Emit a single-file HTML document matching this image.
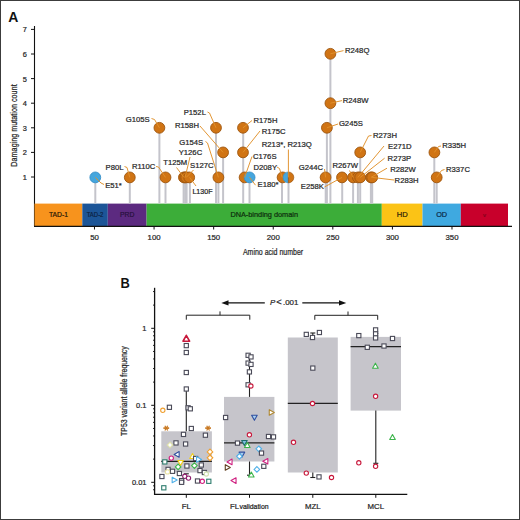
<!DOCTYPE html><html><head><meta charset="utf-8"><style>html,body{margin:0;padding:0;background:#fff;}svg{display:block;}text{font-family:"Liberation Sans",sans-serif;}.t{stroke:#222;stroke-width:0.22px;}</style></head><body>
<svg width="520" height="520" viewBox="0 0 520 520">
<rect x="0" y="0" width="520" height="520" fill="#fff"/>
<text x="8.2" y="21.9" font-size="14" font-weight="bold" fill="#111">A</text>
<text transform="translate(16.8,125.5) rotate(-90) scale(0.84,1)" text-anchor="middle" font-size="8.6" fill="#2a2a2a" class="t">Damaging mutation count</text>
<line x1="34.5" y1="26" x2="34.5" y2="226.5" stroke="#111" stroke-width="1.1"/>
<line x1="31" y1="177.00" x2="34.5" y2="177.00" stroke="#111" stroke-width="1"/>
<text x="26.8" y="179.90" text-anchor="end" font-size="7.4" fill="#2a2a2a" class="t">1</text>
<line x1="31" y1="152.40" x2="34.5" y2="152.40" stroke="#111" stroke-width="1"/>
<text x="26.8" y="155.30" text-anchor="end" font-size="7.4" fill="#2a2a2a" class="t">2</text>
<line x1="31" y1="127.80" x2="34.5" y2="127.80" stroke="#111" stroke-width="1"/>
<text x="26.8" y="130.70" text-anchor="end" font-size="7.4" fill="#2a2a2a" class="t">3</text>
<line x1="31" y1="103.20" x2="34.5" y2="103.20" stroke="#111" stroke-width="1"/>
<text x="26.8" y="106.10" text-anchor="end" font-size="7.4" fill="#2a2a2a" class="t">4</text>
<line x1="31" y1="78.60" x2="34.5" y2="78.60" stroke="#111" stroke-width="1"/>
<text x="26.8" y="81.50" text-anchor="end" font-size="7.4" fill="#2a2a2a" class="t">5</text>
<line x1="31" y1="54.00" x2="34.5" y2="54.00" stroke="#111" stroke-width="1"/>
<text x="26.8" y="56.90" text-anchor="end" font-size="7.4" fill="#2a2a2a" class="t">6</text>
<line x1="31" y1="29.40" x2="34.5" y2="29.40" stroke="#111" stroke-width="1"/>
<text x="26.8" y="32.30" text-anchor="end" font-size="7.4" fill="#2a2a2a" class="t">7</text>
<rect x="34.5" y="203.6" width="47.80" height="22.4" fill="#F7931D"/>
<text x="58.40" y="217.2" text-anchor="middle" font-size="7.7" fill="#241505" stroke="#241505" stroke-width="0.2" textLength="19.0" lengthAdjust="spacingAndGlyphs">TAD-1</text>
<rect x="82.3" y="203.6" width="25.50" height="22.4" fill="#1C5597"/>
<text x="95.05" y="217.2" text-anchor="middle" font-size="7.7" fill="#0c2240" stroke="#0c2240" stroke-width="0.2" textLength="16.8" lengthAdjust="spacingAndGlyphs">TAD-2</text>
<rect x="107.8" y="203.6" width="38.80" height="22.4" fill="#5C2A80"/>
<text x="127.20" y="217.2" text-anchor="middle" font-size="7.7" fill="#26103a" stroke="#26103a" stroke-width="0.2" textLength="14.4" lengthAdjust="spacingAndGlyphs">PRD</text>
<rect x="146.6" y="203.6" width="235.20" height="22.4" fill="#3CAD39"/>
<text x="264.20" y="217.2" text-anchor="middle" font-size="7.7" fill="#0c2c0c" stroke="#0c2c0c" stroke-width="0.2" textLength="67.6" lengthAdjust="spacingAndGlyphs">DNA-binding domain</text>
<rect x="381.8" y="203.6" width="40.70" height="22.4" fill="#FBC316"/>
<text x="402.15" y="217.2" text-anchor="middle" font-size="7.7" fill="#2a2008" stroke="#2a2008" stroke-width="0.2" textLength="11.0" lengthAdjust="spacingAndGlyphs">HD</text>
<rect x="422.5" y="203.6" width="38.30" height="22.4" fill="#3FA9E0"/>
<text x="441.65" y="217.2" text-anchor="middle" font-size="7.7" fill="#0a2846" stroke="#0a2846" stroke-width="0.2" textLength="11.0" lengthAdjust="spacingAndGlyphs">OD</text>
<rect x="460.8" y="203.6" width="47.20" height="22.4" fill="#C8002B"/>
<text x="484.40" y="217.2" text-anchor="middle" font-size="6" fill="#80001a" stroke="#80001a" stroke-width="0.2">v</text>
<line x1="34" y1="226.3" x2="512" y2="226.3" stroke="#111" stroke-width="1.2"/>
<line x1="94.48" y1="226" x2="94.48" y2="229.5" stroke="#111" stroke-width="1"/>
<text x="94.48" y="240.4" text-anchor="middle" font-size="7.8" fill="#2a2a2a" class="t">50</text>
<line x1="154.07" y1="226" x2="154.07" y2="229.5" stroke="#111" stroke-width="1"/>
<text x="154.07" y="240.4" text-anchor="middle" font-size="7.8" fill="#2a2a2a" class="t">100</text>
<line x1="213.66" y1="226" x2="213.66" y2="229.5" stroke="#111" stroke-width="1"/>
<text x="213.66" y="240.4" text-anchor="middle" font-size="7.8" fill="#2a2a2a" class="t">150</text>
<line x1="273.24" y1="226" x2="273.24" y2="229.5" stroke="#111" stroke-width="1"/>
<text x="273.24" y="240.4" text-anchor="middle" font-size="7.8" fill="#2a2a2a" class="t">200</text>
<line x1="332.82" y1="226" x2="332.82" y2="229.5" stroke="#111" stroke-width="1"/>
<text x="332.82" y="240.4" text-anchor="middle" font-size="7.8" fill="#2a2a2a" class="t">250</text>
<line x1="392.41" y1="226" x2="392.41" y2="229.5" stroke="#111" stroke-width="1"/>
<text x="392.41" y="240.4" text-anchor="middle" font-size="7.8" fill="#2a2a2a" class="t">300</text>
<line x1="451.99" y1="226" x2="451.99" y2="229.5" stroke="#111" stroke-width="1"/>
<text x="451.99" y="240.4" text-anchor="middle" font-size="7.8" fill="#2a2a2a" class="t">350</text>
<text transform="translate(273.0,254.6) scale(0.795,1)" text-anchor="middle" font-size="8.8" fill="#2a2a2a" class="t">Amino acid number</text>
<line x1="95.3" y1="203.6" x2="95.3" y2="177.4" stroke="#C4C4CB" stroke-width="2"/>
<line x1="129.8" y1="203.6" x2="129.8" y2="177.4" stroke="#C4C4CB" stroke-width="2"/>
<line x1="159.4" y1="203.6" x2="159.4" y2="127.8" stroke="#C4C4CB" stroke-width="2"/>
<line x1="165.5" y1="203.6" x2="165.5" y2="177.4" stroke="#C4C4CB" stroke-width="2"/>
<line x1="183.6" y1="203.6" x2="183.6" y2="177.4" stroke="#C4C4CB" stroke-width="2"/>
<line x1="185.2" y1="203.6" x2="185.2" y2="177.4" stroke="#C4C4CB" stroke-width="2"/>
<line x1="186.6" y1="203.6" x2="186.6" y2="177.4" stroke="#C4C4CB" stroke-width="2"/>
<line x1="189.9" y1="203.6" x2="189.9" y2="177.4" stroke="#C4C4CB" stroke-width="2"/>
<line x1="216.0" y1="203.6" x2="216.0" y2="127.8" stroke="#C4C4CB" stroke-width="2"/>
<line x1="218.4" y1="203.6" x2="218.4" y2="177.4" stroke="#C4C4CB" stroke-width="2"/>
<line x1="223.1" y1="203.6" x2="223.1" y2="152.4" stroke="#C4C4CB" stroke-width="2"/>
<line x1="243.2" y1="203.6" x2="243.2" y2="127.8" stroke="#C4C4CB" stroke-width="2"/>
<line x1="249.5" y1="203.6" x2="249.5" y2="177.4" stroke="#C4C4CB" stroke-width="2"/>
<line x1="282.0" y1="203.6" x2="282.0" y2="177.4" stroke="#C4C4CB" stroke-width="2"/>
<line x1="288.5" y1="203.6" x2="288.5" y2="177.4" stroke="#C4C4CB" stroke-width="2"/>
<line x1="325.7" y1="203.6" x2="325.7" y2="177.4" stroke="#C4C4CB" stroke-width="2"/>
<line x1="326.9" y1="203.6" x2="326.9" y2="127.8" stroke="#C4C4CB" stroke-width="2"/>
<line x1="330.4" y1="203.6" x2="330.4" y2="53.8" stroke="#C4C4CB" stroke-width="2"/>
<line x1="342.2" y1="203.6" x2="342.2" y2="177.4" stroke="#C4C4CB" stroke-width="2"/>
<line x1="353.1" y1="203.6" x2="353.1" y2="177.4" stroke="#C4C4CB" stroke-width="2"/>
<line x1="357.9" y1="203.6" x2="357.9" y2="177.4" stroke="#C4C4CB" stroke-width="2"/>
<line x1="360.2" y1="203.6" x2="360.2" y2="152.4" stroke="#C4C4CB" stroke-width="2"/>
<line x1="370.9" y1="203.6" x2="370.9" y2="177.4" stroke="#C4C4CB" stroke-width="2"/>
<line x1="372.2" y1="203.6" x2="372.2" y2="177.4" stroke="#C4C4CB" stroke-width="2"/>
<line x1="434.3" y1="203.6" x2="434.3" y2="152.4" stroke="#C4C4CB" stroke-width="2"/>
<line x1="436.7" y1="203.6" x2="436.7" y2="177.4" stroke="#C4C4CB" stroke-width="2"/>
<circle cx="95.3" cy="177.4" r="5.4" fill="#45A6DD" stroke="#3890C8" stroke-width="0.9"/>
<circle cx="129.8" cy="177.4" r="5.4" fill="#D07414" stroke="#9E560E" stroke-width="0.9"/>
<circle cx="159.4" cy="127.8" r="5.4" fill="#D07414" stroke="#9E560E" stroke-width="0.9"/>
<circle cx="165.5" cy="177.4" r="5.4" fill="#D07414" stroke="#9E560E" stroke-width="0.9"/>
<circle cx="183.9" cy="177.4" r="5.4" fill="#D07414" stroke="#9E560E" stroke-width="0.9"/>
<circle cx="185.1" cy="177.4" r="5.4" fill="#D07414" stroke="#9E560E" stroke-width="0.9"/>
<circle cx="186.2" cy="177.4" r="5.4" fill="#D07414" stroke="#9E560E" stroke-width="0.9"/>
<circle cx="189.2" cy="177.4" r="5.4" fill="#D07414" stroke="#9E560E" stroke-width="0.9"/>
<circle cx="216.0" cy="127.8" r="5.4" fill="#D07414" stroke="#9E560E" stroke-width="0.9"/>
<circle cx="218.4" cy="177.4" r="5.4" fill="#D07414" stroke="#9E560E" stroke-width="0.9"/>
<circle cx="223.1" cy="152.4" r="5.4" fill="#D07414" stroke="#9E560E" stroke-width="0.9"/>
<circle cx="243.0" cy="127.8" r="5.4" fill="#D07414" stroke="#9E560E" stroke-width="0.9"/>
<circle cx="243.0" cy="152.4" r="5.4" fill="#D07414" stroke="#9E560E" stroke-width="0.9"/>
<circle cx="244.6" cy="177.4" r="5.4" fill="#D07414" stroke="#9E560E" stroke-width="0.9"/>
<circle cx="249.6" cy="177.4" r="5.4" fill="#45A6DD" stroke="#3890C8" stroke-width="0.9"/>
<circle cx="282.6" cy="177.4" r="5.4" fill="#D07414" stroke="#9E560E" stroke-width="0.9"/>
<circle cx="325.6" cy="177.4" r="5.4" fill="#D07414" stroke="#9E560E" stroke-width="0.9"/>
<circle cx="326.9" cy="127.8" r="5.4" fill="#D07414" stroke="#9E560E" stroke-width="0.9"/>
<circle cx="330.4" cy="103.2" r="5.4" fill="#D07414" stroke="#9E560E" stroke-width="0.9"/>
<circle cx="330.4" cy="53.8" r="5.4" fill="#D07414" stroke="#9E560E" stroke-width="0.9"/>
<circle cx="342.0" cy="177.4" r="5.4" fill="#D07414" stroke="#9E560E" stroke-width="0.9"/>
<circle cx="353.1" cy="177.4" r="5.4" fill="#D07414" stroke="#9E560E" stroke-width="0.9"/>
<circle cx="357.9" cy="177.4" r="5.4" fill="#D07414" stroke="#9E560E" stroke-width="0.9"/>
<circle cx="360.2" cy="177.4" r="5.4" fill="#D07414" stroke="#9E560E" stroke-width="0.9"/>
<circle cx="360.2" cy="152.4" r="5.4" fill="#D07414" stroke="#9E560E" stroke-width="0.9"/>
<circle cx="371.0" cy="177.4" r="5.4" fill="#D07414" stroke="#9E560E" stroke-width="0.9"/>
<circle cx="372.2" cy="177.4" r="5.4" fill="#D07414" stroke="#9E560E" stroke-width="0.9"/>
<circle cx="434.4" cy="152.4" r="5.4" fill="#D07414" stroke="#9E560E" stroke-width="0.9"/>
<circle cx="436.7" cy="177.4" r="5.4" fill="#D07414" stroke="#9E560E" stroke-width="0.9"/>
<path d="M288.4,172.0 A5.4,5.4 0 0 0 288.4,182.8 Z" fill="#45A6DD" stroke="#3890C8" stroke-width="0.7"/>
<path d="M288.4,172.0 A5.4,5.4 0 0 1 288.4,182.8 Z" fill="#D07414" stroke="#9E560E" stroke-width="0.7"/>
<path d="M104,184.5 L101,183 L95.3,177.4" fill="none" stroke="#E0902A" stroke-width="0.95"/>
<path d="M124.5,166.5 L127,167.5 L129.8,177.4" fill="none" stroke="#E0902A" stroke-width="0.95"/>
<path d="M151.5,118.5 L154.5,119.5 L159.4,127.8" fill="none" stroke="#E0902A" stroke-width="0.95"/>
<path d="M156,166.5 L158.5,167 L165.5,177.4" fill="none" stroke="#E0902A" stroke-width="0.95"/>
<path d="M176.5,167.5 L183.9,177.4" fill="none" stroke="#E0902A" stroke-width="0.95"/>
<path d="M190,157 L185.1,177.4" fill="none" stroke="#E0902A" stroke-width="0.95"/>
<path d="M193.5,170 L186.2,177.4" fill="none" stroke="#E0902A" stroke-width="0.95"/>
<path d="M196,186 L189.6,177.4" fill="none" stroke="#E0902A" stroke-width="0.95"/>
<path d="M207.5,112 L209.5,113 L216.0,127.8" fill="none" stroke="#E0902A" stroke-width="0.95"/>
<path d="M200,126 L223.1,152.4" fill="none" stroke="#E0902A" stroke-width="0.95"/>
<path d="M205.5,141.5 L207.5,143 L218.4,177.4" fill="none" stroke="#E0902A" stroke-width="0.95"/>
<path d="M252,120.5 L243.0,127.8" fill="none" stroke="#E0902A" stroke-width="0.95"/>
<path d="M260,131 L243.0,152.4" fill="none" stroke="#E0902A" stroke-width="0.95"/>
<path d="M252,156.5 L244.6,177.4" fill="none" stroke="#E0902A" stroke-width="0.95"/>
<path d="M277,167 L279.5,168.5 L282.2,177.4" fill="none" stroke="#E0902A" stroke-width="0.95"/>
<path d="M288.4,149.5 L288.4,177.4" fill="none" stroke="#E0902A" stroke-width="0.95"/>
<path d="M255.5,185.2 L249.6,177.4" fill="none" stroke="#E0902A" stroke-width="0.95"/>
<path d="M324.5,169 L325.6,177.4" fill="none" stroke="#E0902A" stroke-width="0.95"/>
<path d="M324.5,187 L342.0,177.4" fill="none" stroke="#E0902A" stroke-width="0.95"/>
<path d="M343.5,50.6 L330.4,53.8" fill="none" stroke="#E0902A" stroke-width="0.95"/>
<path d="M342,100.6 L330.4,103.2" fill="none" stroke="#E0902A" stroke-width="0.95"/>
<path d="M338,124 L326.9,127.8" fill="none" stroke="#E0902A" stroke-width="0.95"/>
<path d="M371.5,135.5 L368.5,136 L360.2,152.4" fill="none" stroke="#E0902A" stroke-width="0.95"/>
<path d="M384,146 L357.9,177.4" fill="none" stroke="#E0902A" stroke-width="0.95"/>
<path d="M384.6,158.2 L360.2,177.4" fill="none" stroke="#E0902A" stroke-width="0.95"/>
<path d="M387,168.2 L371.0,177.4" fill="none" stroke="#E0902A" stroke-width="0.95"/>
<path d="M394,180 L372.2,177.4" fill="none" stroke="#E0902A" stroke-width="0.95"/>
<path d="M349.5,170.5 L353.1,177.4" fill="none" stroke="#E0902A" stroke-width="0.95"/>
<path d="M441,146 L438.5,146.5 L434.4,152.4" fill="none" stroke="#E0902A" stroke-width="0.95"/>
<path d="M444.5,169.5 L441.5,170.5 L436.7,177.4" fill="none" stroke="#E0902A" stroke-width="0.95"/>
<text x="105.2" y="187.90" font-size="7.7" fill="#2a2a2a" class="t">E51*</text>
<text x="105.6" y="170.20" font-size="7.7" fill="#2a2a2a" class="t">P80L</text>
<text x="125.8" y="121.80" font-size="7.7" fill="#2a2a2a" class="t">G105S</text>
<text x="131.9" y="168.60" font-size="7.7" fill="#2a2a2a" class="t">R110C</text>
<text x="163.2" y="165.40" font-size="7.7" fill="#2a2a2a" class="t">T125M</text>
<text x="178.7" y="154.80" font-size="7.7" fill="#2a2a2a" class="t">Y126C</text>
<text x="190.0" y="167.90" font-size="7.7" fill="#2a2a2a" class="t">S127C</text>
<text x="192.4" y="194.10" font-size="7.1" fill="#2a2a2a" class="t">L130F</text>
<text x="183.7" y="115.00" font-size="7.7" fill="#2a2a2a" class="t">P152L</text>
<text x="175.0" y="128.40" font-size="7.7" fill="#2a2a2a" class="t">R158H</text>
<text x="179.2" y="144.70" font-size="7.7" fill="#2a2a2a" class="t">G154S</text>
<text x="253.5" y="123.00" font-size="7.7" fill="#2a2a2a" class="t">R175H</text>
<text x="261.7" y="134.20" font-size="7.7" fill="#2a2a2a" class="t">R175C</text>
<text x="261.8" y="147.40" font-size="7.7" fill="#2a2a2a" class="t">R213*, R213Q</text>
<text x="253.0" y="158.70" font-size="7.7" fill="#2a2a2a" class="t">C176S</text>
<text x="253.5" y="170.40" font-size="7.7" fill="#2a2a2a" class="t">D208Y</text>
<text x="257.5" y="187.40" font-size="7.7" fill="#2a2a2a" class="t">E180*</text>
<text x="298.7" y="170.30" font-size="7.7" fill="#2a2a2a" class="t">G244C</text>
<text x="300.8" y="189.20" font-size="7.7" fill="#2a2a2a" class="t">E258K</text>
<text x="345.0" y="52.90" font-size="7.7" fill="#2a2a2a" class="t">R248Q</text>
<text x="342.8" y="103.00" font-size="7.7" fill="#2a2a2a" class="t">R248W</text>
<text x="338.9" y="125.70" font-size="7.7" fill="#2a2a2a" class="t">G245S</text>
<text x="373.0" y="138.10" font-size="7.7" fill="#2a2a2a" class="t">R273H</text>
<text x="388.0" y="149.30" font-size="7.7" fill="#2a2a2a" class="t">E271D</text>
<text x="387.6" y="161.10" font-size="7.7" fill="#2a2a2a" class="t">R273P</text>
<text x="390.2" y="171.60" font-size="7.7" fill="#2a2a2a" class="t">R282W</text>
<text x="394.6" y="183.20" font-size="7.7" fill="#2a2a2a" class="t">R283H</text>
<text x="332.4" y="167.50" font-size="7.7" fill="#2a2a2a" class="t">R267W</text>
<text x="442.2" y="148.30" font-size="7.7" fill="#2a2a2a" class="t">R335H</text>
<text x="446.0" y="171.70" font-size="7.7" fill="#2a2a2a" class="t">R337C</text>
<text transform="translate(120.4,288) scale(0.92,1)" font-size="14" font-weight="bold" fill="#111">B</text>
<rect x="161.3" y="431.3" width="50.60" height="41.20" fill="#C6C5CB"/>
<rect x="224.0" y="396.9" width="50.40" height="64.60" fill="#C6C5CB"/>
<rect x="287.8" y="337.5" width="50.00" height="135.00" fill="#C6C5CB"/>
<rect x="350.6" y="336.9" width="50.40" height="73.70" fill="#C6C5CB"/>
<line x1="186.3" y1="389" x2="186.3" y2="431.3" stroke="#222" stroke-width="1.1"/>
<line x1="249.5" y1="353.8" x2="249.5" y2="396.9" stroke="#222" stroke-width="1.1"/>
<line x1="249.5" y1="461.5" x2="249.5" y2="475" stroke="#222" stroke-width="1.1"/>
<line x1="312.8" y1="333.0" x2="312.8" y2="337.5" stroke="#222" stroke-width="1.1"/>
<line x1="312.8" y1="472.5" x2="312.8" y2="477.5" stroke="#222" stroke-width="1.1"/>
<line x1="375.8" y1="333.6" x2="375.8" y2="336.9" stroke="#222" stroke-width="1.1"/>
<line x1="375.8" y1="410.6" x2="375.8" y2="463.3" stroke="#222" stroke-width="1.1"/>
<line x1="310.3" y1="477.5" x2="315.3" y2="477.5" stroke="#222" stroke-width="1.1"/>
<line x1="373.3" y1="463.3" x2="378.3" y2="463.3" stroke="#222" stroke-width="1.1"/>
<line x1="310.3" y1="333.0" x2="315.3" y2="333.0" stroke="#222" stroke-width="1.1"/>
<line x1="373.3" y1="333.6" x2="378.3" y2="333.6" stroke="#222" stroke-width="1.1"/>
<line x1="247.0" y1="475.2" x2="252.0" y2="475.2" stroke="#222" stroke-width="1.1"/>
<line x1="183.8" y1="473.8" x2="188.8" y2="473.8" stroke="#222" stroke-width="1.1"/>
<line x1="161.3" y1="461.3" x2="211.9" y2="461.3" stroke="#222" stroke-width="1.3"/>
<line x1="224.0" y1="442.9" x2="274.4" y2="442.9" stroke="#222" stroke-width="1.3"/>
<line x1="287.8" y1="403.4" x2="337.8" y2="403.4" stroke="#222" stroke-width="1.3"/>
<line x1="350.6" y1="346.6" x2="401.0" y2="346.6" stroke="#222" stroke-width="1.3"/>
<line x1="154.6" y1="287.8" x2="154.6" y2="494.8" stroke="#111" stroke-width="1.3"/>
<line x1="154" y1="494.3" x2="407.3" y2="494.3" stroke="#111" stroke-width="1.3"/>
<line x1="151.2" y1="328.30" x2="154.6" y2="328.30" stroke="#111" stroke-width="1"/>
<text x="146.5" y="330.80" text-anchor="end" font-size="7.5" fill="#2a2a2a" class="t">1</text>
<line x1="151.2" y1="405.30" x2="154.6" y2="405.30" stroke="#111" stroke-width="1"/>
<text x="146.5" y="407.80" text-anchor="end" font-size="7.5" fill="#2a2a2a" class="t">0.1</text>
<line x1="151.2" y1="482.30" x2="154.6" y2="482.30" stroke="#111" stroke-width="1"/>
<text x="146.5" y="484.80" text-anchor="end" font-size="7.5" fill="#2a2a2a" class="t">0.01</text>
<line x1="153" y1="489.76" x2="154.6" y2="489.76" stroke="#111" stroke-width="0.9"/>
<line x1="153" y1="485.82" x2="154.6" y2="485.82" stroke="#111" stroke-width="0.9"/>
<line x1="153" y1="459.12" x2="154.6" y2="459.12" stroke="#111" stroke-width="0.9"/>
<line x1="153" y1="445.56" x2="154.6" y2="445.56" stroke="#111" stroke-width="0.9"/>
<line x1="153" y1="435.94" x2="154.6" y2="435.94" stroke="#111" stroke-width="0.9"/>
<line x1="153" y1="428.48" x2="154.6" y2="428.48" stroke="#111" stroke-width="0.9"/>
<line x1="153" y1="422.38" x2="154.6" y2="422.38" stroke="#111" stroke-width="0.9"/>
<line x1="153" y1="417.23" x2="154.6" y2="417.23" stroke="#111" stroke-width="0.9"/>
<line x1="153" y1="412.76" x2="154.6" y2="412.76" stroke="#111" stroke-width="0.9"/>
<line x1="153" y1="408.82" x2="154.6" y2="408.82" stroke="#111" stroke-width="0.9"/>
<line x1="153" y1="382.12" x2="154.6" y2="382.12" stroke="#111" stroke-width="0.9"/>
<line x1="153" y1="368.56" x2="154.6" y2="368.56" stroke="#111" stroke-width="0.9"/>
<line x1="153" y1="358.94" x2="154.6" y2="358.94" stroke="#111" stroke-width="0.9"/>
<line x1="153" y1="351.48" x2="154.6" y2="351.48" stroke="#111" stroke-width="0.9"/>
<line x1="153" y1="345.38" x2="154.6" y2="345.38" stroke="#111" stroke-width="0.9"/>
<line x1="153" y1="340.23" x2="154.6" y2="340.23" stroke="#111" stroke-width="0.9"/>
<line x1="153" y1="335.76" x2="154.6" y2="335.76" stroke="#111" stroke-width="0.9"/>
<line x1="153" y1="331.82" x2="154.6" y2="331.82" stroke="#111" stroke-width="0.9"/>
<line x1="153" y1="305.12" x2="154.6" y2="305.12" stroke="#111" stroke-width="0.9"/>
<line x1="153" y1="291.56" x2="154.6" y2="291.56" stroke="#111" stroke-width="0.9"/>
<text transform="translate(127.4,391.1) rotate(-90) scale(0.845,1)" text-anchor="middle" font-size="8.2" fill="#2a2a2a" class="t">TP53 variant allele frequency</text>
<line x1="186.3" y1="494.3" x2="186.3" y2="497.8" stroke="#111" stroke-width="1"/>
<line x1="249.5" y1="494.3" x2="249.5" y2="497.8" stroke="#111" stroke-width="1"/>
<line x1="312.8" y1="494.3" x2="312.8" y2="497.8" stroke="#111" stroke-width="1"/>
<line x1="375.8" y1="494.3" x2="375.8" y2="497.8" stroke="#111" stroke-width="1"/>
<text x="186.3" y="508.8" text-anchor="middle" font-size="7.8" fill="#2a2a2a" class="t">FL</text>
<text x="249.3" y="508.8" text-anchor="middle" font-size="7.8" fill="#2a2a2a" class="t">FL<tspan dx="0.3" font-size="6.9">validation</tspan></text>
<text x="312.8" y="508.8" text-anchor="middle" font-size="7.8" fill="#2a2a2a" class="t">MZL</text>
<text x="375.8" y="508.8" text-anchor="middle" font-size="7.8" fill="#2a2a2a" class="t">MCL</text>
<path d="M186.3,319.7 L186.3,315.2 L249.8,315.2 L249.8,319.7" fill="none" stroke="#222" stroke-width="1"/>
<line x1="220.0" y1="315.2" x2="220.0" y2="311.4" stroke="#222" stroke-width="1"/>
<path d="M314.8,319.8 L314.8,315.3 L377.7,315.3 L377.7,319.8" fill="none" stroke="#222" stroke-width="1"/>
<line x1="348.0" y1="315.3" x2="348.0" y2="311.5" stroke="#222" stroke-width="1"/>
<line x1="226" y1="302.9" x2="264.8" y2="302.9" stroke="#111" stroke-width="1.3"/>
<path d="M221.3,302.9 L228.5,300.2 L228.5,305.6 Z" fill="#111"/>
<line x1="302.3" y1="302.9" x2="341" y2="302.9" stroke="#111" stroke-width="1.3"/>
<path d="M346.3,302.9 L339,300.2 L339,305.6 Z" fill="#111"/>
<text x="269.9" y="305.2" font-size="7.9" font-style="italic" fill="#2a2a2a" class="t">P</text><text x="276.3" y="305.3" font-size="9.4" fill="#2a2a2a" class="t">&lt;</text><text x="283.0" y="305.0" font-size="7.9" fill="#2a2a2a" class="t">.001</text>
<path d="M186.30,335.30 L189.60,341.24 L183.00,341.24 Z" fill="#fff" stroke="#C8193C" stroke-width="1.6" stroke-linejoin="round"/>
<rect x="184.20" y="343.50" width="4.2" height="4.2" fill="#fff" stroke="#4a4a58" stroke-width="1.1"/>
<rect x="184.20" y="350.40" width="4.2" height="4.2" fill="#fff" stroke="#4a4a58" stroke-width="1.1"/>
<rect x="184.20" y="370.40" width="4.2" height="4.2" fill="#fff" stroke="#4a4a58" stroke-width="1.1"/>
<rect x="184.20" y="386.90" width="4.2" height="4.2" fill="#fff" stroke="#4a4a58" stroke-width="1.1"/>
<circle cx="162.8" cy="410.3" r="2.15" fill="#fff" stroke="#F0A030" stroke-width="1.1"/>
<rect x="167.30" y="405.20" width="4.2" height="4.2" fill="#fff" stroke="#4a4a58" stroke-width="1.1"/>
<rect x="186.00" y="405.70" width="4.2" height="4.2" fill="#fff" stroke="#4a4a58" stroke-width="1.1"/>
<rect x="188.20" y="406.70" width="4.2" height="4.2" fill="#fff" stroke="#4a4a58" stroke-width="1.1"/>
<line x1="163.50" y1="428.10" x2="169.10" y2="428.10" stroke="#C87820" stroke-width="1.2"/><line x1="164.90" y1="425.68" x2="167.70" y2="430.52" stroke="#C87820" stroke-width="1.2"/><line x1="167.70" y1="425.68" x2="164.90" y2="430.52" stroke="#C87820" stroke-width="1.2"/><line x1="163.5" y1="428.1" x2="169.10000000000002" y2="428.1" stroke="#C87820" stroke-width="1.2"/>
<line x1="205.30" y1="428.10" x2="210.90" y2="428.10" stroke="#C87820" stroke-width="1.2"/><line x1="206.70" y1="425.68" x2="209.50" y2="430.52" stroke="#C87820" stroke-width="1.2"/><line x1="209.50" y1="425.68" x2="206.70" y2="430.52" stroke="#C87820" stroke-width="1.2"/><line x1="205.29999999999998" y1="428.1" x2="210.9" y2="428.1" stroke="#C87820" stroke-width="1.2"/>
<rect x="189.20" y="426.40" width="4.2" height="4.2" fill="#fff" stroke="#4a4a58" stroke-width="1.1"/>
<rect x="181.40" y="432.30" width="4.2" height="4.2" fill="#fff" stroke="#4a4a58" stroke-width="1.1"/>
<rect x="203.30" y="433.10" width="4.2" height="4.2" fill="#fff" stroke="#4a4a58" stroke-width="1.1"/>
<rect x="173.90" y="440.80" width="4.2" height="4.2" fill="#fff" stroke="#4a4a58" stroke-width="1.1"/>
<rect x="183.50" y="441.90" width="4.2" height="4.2" fill="#fff" stroke="#4a4a58" stroke-width="1.1"/>
<path d="M170,442.2 L172.8,445 L170,447.8 L167.2,445 Z" fill="#fff" stroke="#DCDFA8" stroke-width="1.1"/>
<path d="M210,449.09999999999997 L212.8,451.9 L210,454.7 L207.2,451.9 Z" fill="#fff" stroke="#F0A030" stroke-width="1.1"/>
<path d="M210,455.0 L212.8,457.8 L210,460.6 L207.2,457.8 Z" fill="#fff" stroke="#F0A030" stroke-width="1.1"/>
<path d="M174.10,454.40 L179.14,451.60 L179.14,457.20 Z" fill="#fff" stroke="#3050A0" stroke-width="1.1" stroke-linejoin="round"/>
<circle cx="171.3" cy="458.1" r="2.15" fill="#fff" stroke="#D02080" stroke-width="1.1"/>
<path d="M192.50,453.50 L195.30,458.54 L189.70,458.54 Z" fill="#fff" stroke="#F2D01A" stroke-width="1.1" stroke-linejoin="round"/>
<rect x="193.50" y="456.40" width="4.2" height="4.2" fill="#fff" stroke="#4a4a58" stroke-width="1.1"/>
<path d="M201.60,459.40 L196.56,456.60 L196.56,462.20 Z" fill="#fff" stroke="#50B0E8" stroke-width="1.1" stroke-linejoin="round"/>
<rect x="162.70" y="459.80" width="4.2" height="4.2" fill="#fff" stroke="#2E7D6E" stroke-width="1.1"/>
<path d="M180.60,465.60 L183.40,460.56 L177.80,460.56 Z" fill="#fff" stroke="#F2D01A" stroke-width="1.1" stroke-linejoin="round"/>
<path d="M178.1,464.09999999999997 L180.9,466.9 L178.1,469.7 L175.29999999999998,466.9 Z" fill="#fff" stroke="#3CB44B" stroke-width="1.1"/>
<rect x="184.80" y="463.90" width="4.2" height="4.2" fill="#fff" stroke="#4a4a58" stroke-width="1.1"/>
<path d="M194.4,462.8 L197.20000000000002,465.6 L194.4,468.40000000000003 L191.6,465.6 Z" fill="#fff" stroke="#3CB44B" stroke-width="1.1"/>
<rect x="199.20" y="462.90" width="4.2" height="4.2" fill="#fff" stroke="#4a4a58" stroke-width="1.1"/>
<rect x="166.00" y="467.30" width="4.2" height="4.2" fill="#fff" stroke="#4a4a58" stroke-width="1.1"/>
<rect x="170.40" y="469.20" width="4.2" height="4.2" fill="#fff" stroke="#4a4a58" stroke-width="1.1"/>
<circle cx="167.5" cy="471.9" r="2.15" fill="#fff" stroke="#E8E0A0" stroke-width="1.1"/>
<rect x="177.30" y="471.40" width="4.2" height="4.2" fill="#fff" stroke="#4a4a58" stroke-width="1.1"/>
<rect x="197.90" y="468.50" width="4.2" height="4.2" fill="#fff" stroke="#4a4a58" stroke-width="1.1"/>
<rect x="202.30" y="470.40" width="4.2" height="4.2" fill="#fff" stroke="#4a4a58" stroke-width="1.1"/>
<circle cx="206.3" cy="474" r="2.15" fill="#fff" stroke="#D0E0B0" stroke-width="1.1"/>
<rect x="159.80" y="474.40" width="4.2" height="4.2" fill="#fff" stroke="#4a4a58" stroke-width="1.1"/>
<circle cx="184.8" cy="476.3" r="2.15" fill="#fff" stroke="#8E1E6E" stroke-width="1.1"/>
<circle cx="188.5" cy="478.1" r="2.15" fill="#fff" stroke="#8E1E6E" stroke-width="1.1"/>
<path d="M177.20,480.00 L172.16,477.20 L172.16,482.80 Z" fill="#fff" stroke="#50B0E8" stroke-width="1.1" stroke-linejoin="round"/>
<rect x="179.50" y="478.50" width="4.2" height="4.2" fill="#fff" stroke="#4a4a58" stroke-width="1.1"/>
<rect x="179.50" y="480.20" width="4.2" height="4.2" fill="#fff" stroke="#4a4a58" stroke-width="1.1"/>
<rect x="195.40" y="478.90" width="4.2" height="4.2" fill="#fff" stroke="#4a4a58" stroke-width="1.1"/>
<circle cx="202.3" cy="481.3" r="2.15" fill="#fff" stroke="#D02080" stroke-width="1.1"/>
<rect x="206.70" y="479.20" width="4.2" height="4.2" fill="#fff" stroke="#2E7D6E" stroke-width="1.1"/>
<rect x="161.70" y="485.70" width="4.2" height="4.2" fill="#fff" stroke="#2E7D6E" stroke-width="1.1"/>
<rect x="246.00" y="353.20" width="4.2" height="4.2" fill="#fff" stroke="#4a4a58" stroke-width="1.1"/>
<rect x="248.90" y="354.80" width="4.2" height="4.2" fill="#fff" stroke="#4a4a58" stroke-width="1.1"/>
<rect x="246.00" y="361.00" width="4.2" height="4.2" fill="#fff" stroke="#4a4a58" stroke-width="1.1"/>
<rect x="248.90" y="362.30" width="4.2" height="4.2" fill="#fff" stroke="#4a4a58" stroke-width="1.1"/>
<rect x="247.30" y="369.80" width="4.2" height="4.2" fill="#fff" stroke="#4a4a58" stroke-width="1.1"/>
<rect x="246.00" y="382.70" width="4.2" height="4.2" fill="#fff" stroke="#4a4a58" stroke-width="1.1"/>
<circle cx="250.9" cy="386" r="2.15" fill="#fff" stroke="#C8193C" stroke-width="1.1"/>
<path d="M274.30,412.50 L269.26,409.70 L269.26,415.30 Z" fill="#fff" stroke="#B08830" stroke-width="1.1" stroke-linejoin="round"/>
<rect x="223.50" y="415.40" width="4.2" height="4.2" fill="#fff" stroke="#4a4a58" stroke-width="1.1"/>
<path d="M254.40,420.30 L257.20,415.26 L251.60,415.26 Z" fill="#A8D0F0" stroke="#3050A0" stroke-width="1.1" stroke-linejoin="round"/>
<circle cx="249.4" cy="434.8" r="2.15" fill="#fff" stroke="#C8193C" stroke-width="1.1"/>
<rect x="266.40" y="434.40" width="4.2" height="4.2" fill="#fff" stroke="#4a4a58" stroke-width="1.1"/>
<rect x="271.40" y="434.80" width="4.2" height="4.2" fill="#fff" stroke="#4a4a58" stroke-width="1.1"/>
<rect x="235.40" y="441.00" width="4.2" height="4.2" fill="#fff" stroke="#4a4a58" stroke-width="1.1"/>
<path d="M244.40,445.60 L247.20,440.56 L241.60,440.56 Z" fill="#80C0E0" stroke="#1E6E6E" stroke-width="1.1" stroke-linejoin="round"/>
<path d="M247.30,442.50 L250.10,447.54 L244.50,447.54 Z" fill="#fff" stroke="#3CB44B" stroke-width="1.1" stroke-linejoin="round"/>
<path d="M258.8,446.0 L261.6,448.8 L258.8,451.6 L256.0,448.8 Z" fill="#fff" stroke="#50B0E8" stroke-width="1.1"/>
<rect x="259.40" y="451.00" width="4.2" height="4.2" fill="#fff" stroke="#4a4a58" stroke-width="1.1"/>
<path d="M241.90,457.20 L244.70,452.16 L239.10,452.16 Z" fill="#A8D0F0" stroke="#3050A0" stroke-width="1.1" stroke-linejoin="round"/>
<path d="M239.4,453.5 L242.20000000000002,456.3 L239.4,459.1 L236.6,456.3 Z" fill="#fff" stroke="#50B0E8" stroke-width="1.1"/>
<path d="M227.00,461.90 L232.04,459.10 L232.04,464.70 Z" fill="#fff" stroke="#D02080" stroke-width="1.1" stroke-linejoin="round"/>
<path d="M262.80,461.30 L267.84,458.50 L267.84,464.10 Z" fill="#fff" stroke="#D02080" stroke-width="1.1" stroke-linejoin="round"/>
<path d="M230.30,467.50 L225.26,464.70 L225.26,470.30 Z" fill="#fff" stroke="#604020" stroke-width="1.1" stroke-linejoin="round"/>
<rect x="261.70" y="464.20" width="4.2" height="4.2" fill="#fff" stroke="#4a4a58" stroke-width="1.1"/>
<path d="M256.9,466.59999999999997 L259.7,469.4 L256.9,472.2 L254.09999999999997,469.4 Z" fill="#fff" stroke="#50B0E8" stroke-width="1.1"/>
<path d="M251.30,472.00 L254.10,477.04 L248.50,477.04 Z" fill="#fff" stroke="#3CB44B" stroke-width="1.1" stroke-linejoin="round"/>
<path d="M231.00,480.60 L236.04,477.80 L236.04,483.40 Z" fill="#fff" stroke="#D02080" stroke-width="1.1" stroke-linejoin="round"/>
<rect x="304.20" y="332.30" width="4.2" height="4.2" fill="#fff" stroke="#4a4a58" stroke-width="1.1"/>
<rect x="310.40" y="335.40" width="4.2" height="4.2" fill="#fff" stroke="#4a4a58" stroke-width="1.1"/>
<rect x="317.30" y="330.40" width="4.2" height="4.2" fill="#fff" stroke="#4a4a58" stroke-width="1.1"/>
<rect x="310.70" y="366.00" width="4.2" height="4.2" fill="#fff" stroke="#4a4a58" stroke-width="1.1"/>
<circle cx="312.5" cy="403.5" r="2.15" fill="#fff" stroke="#C8193C" stroke-width="1.1"/>
<circle cx="293.5" cy="442.3" r="2.15" fill="#fff" stroke="#C8193C" stroke-width="1.1"/>
<circle cx="306.3" cy="473.1" r="2.15" fill="#fff" stroke="#C8193C" stroke-width="1.1"/>
<rect x="316.90" y="474.80" width="4.2" height="4.2" fill="#fff" stroke="#4a4a58" stroke-width="1.1"/>
<circle cx="331.5" cy="477.5" r="2.15" fill="#fff" stroke="#C8193C" stroke-width="1.1"/>
<rect x="356.70" y="333.50" width="4.2" height="4.2" fill="#fff" stroke="#4a4a58" stroke-width="1.1"/>
<rect x="373.50" y="327.80" width="4.2" height="4.2" fill="#fff" stroke="#4a4a58" stroke-width="1.1"/>
<rect x="373.50" y="331.80" width="4.2" height="4.2" fill="#fff" stroke="#4a4a58" stroke-width="1.1"/>
<rect x="373.50" y="335.80" width="4.2" height="4.2" fill="#fff" stroke="#4a4a58" stroke-width="1.1"/>
<rect x="390.40" y="336.40" width="4.2" height="4.2" fill="#fff" stroke="#4a4a58" stroke-width="1.1"/>
<rect x="365.20" y="345.20" width="4.2" height="4.2" fill="#fff" stroke="#4a4a58" stroke-width="1.1"/>
<rect x="381.90" y="343.90" width="4.2" height="4.2" fill="#fff" stroke="#4a4a58" stroke-width="1.1"/>
<path d="M375.40,363.20 L378.20,368.24 L372.60,368.24 Z" fill="#fff" stroke="#3CB44B" stroke-width="1.1" stroke-linejoin="round"/>
<circle cx="375.6" cy="396.3" r="2.15" fill="#fff" stroke="#C8193C" stroke-width="1.1"/>
<path d="M392.50,434.50 L395.30,439.54 L389.70,439.54 Z" fill="#fff" stroke="#3CB44B" stroke-width="1.1" stroke-linejoin="round"/>
<circle cx="358.8" cy="462.8" r="2.15" fill="#fff" stroke="#C8193C" stroke-width="1.1"/>
<circle cx="375.6" cy="466.3" r="2.15" fill="#fff" stroke="#C8193C" stroke-width="1.1"/>
<rect x="0.5" y="0.5" width="519" height="519" fill="none" stroke="#3c3c3c" stroke-width="1"/>
</svg></body></html>
